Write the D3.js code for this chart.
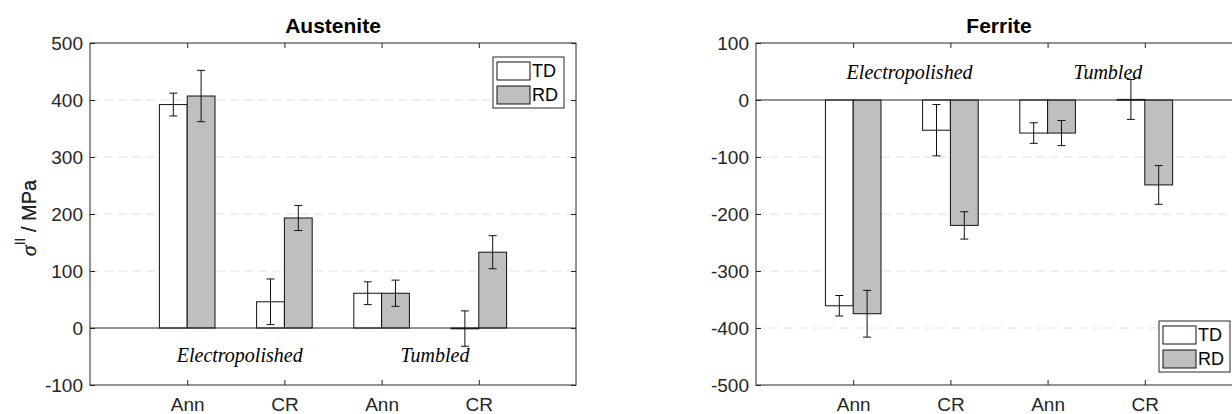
<!DOCTYPE html>
<html>
<head>
<meta charset="utf-8">
<script src="https://cdn.jsdelivr.net/npm/d3@7"></script>
<style>
  body { margin: 0; background: #fff; }
  #graphic { width: 1232px; height: 414px; overflow: hidden; }
  text { font-family: "Liberation Sans", Arial, sans-serif; fill: #262626; }
  .grouplabel { font-family: "Liberation Serif", "DejaVu Serif", serif; font-style: italic; fill: #000; }
</style>
</head>
<body>
<div id="graphic"></div>
<script>
// categories and series
const categories = ["Ann", "CR", "Ann", "CR"];
const groups = ["Electropolished", "Tumbled"];
const series = ["TD", "RD"];

// Austenite values (MPa) and error
const austeniteTD = [392, 46, 61, -1];
const austeniteTDErr = [20, 40, 20, 31];
const austeniteRD = [407, 193, 61, 133];
const austeniteRDErr = [45, 22, 23, 29];

// Ferrite values (MPa) and error
const ferriteTD = [-361, -53, -58, 1];
const ferriteTDErr = [18, 45, 18, 35];
const ferriteRD = [-375, -220, -58, -149];
const ferriteRDErr = [41, 24, 22, 34];

// tick labels
const austeniteTicks = [-100, 0, 100, 200, 300, 400, 500];
const ferriteTicks = [-500, -400, -300, -200, -100, 0, 100];

const svg = d3.select("#graphic")
  .append("svg")
  .attr("width", 1232)
  .attr("height", 414);

const barChart = {
  create(opts){
    const instance = Object.create(this);
    Object.keys(opts).forEach( function(key){
      instance[key] = opts[key];
    });
    return instance;
  },
  top: 43,
  width: 486,
  height: 342,
  barW: 0.286,
  fills: ["#ffffff", "#bfbfbf"],
  createScales(){
    this.xScale = d3.scaleLinear()
      .domain([0, 5])
      .range([0, this.width]);
    this.yScale = d3.scaleLinear()
      .domain(d3.extent(this.ticks))
      .range([this.height, 0]);
  },
  drawPlot(){
    this.plot = svg.append("g")
      .attr("transform", `translate(${this.left}, ${this.top})`);
  },
  drawGrid(){
    const that = this;
    const inner = this.ticks.filter(t => t !== 0 && t !== this.ticks[0] && t !== this.ticks[this.ticks.length - 1]);
    this.plot.append("g")
      .attr("class", "grid")
      .selectAll("line")
      .data(inner)
      .enter()
      .append("line")
      .attr("x1", 0)
      .attr("x2", this.width)
      .attr("y1", d => that.yScale(d))
      .attr("y2", d => that.yScale(d))
      .attr("stroke", "#e0e0e0")
      .attr("stroke-width", 1)
      .attr("stroke-dasharray", "9,5");
  },
  drawData(){
    const that = this;
    const rows = [];
    this.values.forEach( function(vals, s){
      vals.forEach( function(v, i){
        rows.push({ s: s, i: i, v: v, e: that.errors[s][i] });
      });
    });

    const bars = this.plot.append("g").attr("class", "bars");

    bars.selectAll("rect")
      .data(rows)
      .enter()
      .append("rect")
      .attr("x", d => that.xScale(i2x(d)))
      .attr("width", that.xScale(that.barW) - that.xScale(0))
      .attr("y", d => that.yScale(Math.max(d.v, 0)))
      .attr("height", d => Math.max(Math.abs(that.yScale(d.v) - that.yScale(0)), 0.8))
      .attr("fill", d => that.fills[d.s])
      .attr("stroke", "#111")
      .attr("stroke-width", 1);

    function i2x(d){
      return d.i + 1 + (d.s === 0 ? -that.barW : 0);
    }

    // baseline
    this.plot.append("line")
      .attr("x1", 0)
      .attr("x2", this.width)
      .attr("y1", this.yScale(0))
      .attr("y2", this.yScale(0))
      .attr("stroke", "#262626")
      .attr("stroke-width", 1);

    // error bars
    const errs = this.plot.append("g").attr("class", "errors")
      .selectAll("g")
      .data(rows)
      .enter()
      .append("g")
      .attr("stroke", "#111")
      .attr("stroke-width", 1);

    const cx = d => that.xScale(i2x(d) + that.barW / 2);
    errs.append("line")
      .attr("x1", cx).attr("x2", cx)
      .attr("y1", d => that.yScale(d.v - d.e))
      .attr("y2", d => that.yScale(d.v + d.e));
    errs.append("line")
      .attr("x1", d => cx(d) - 4).attr("x2", d => cx(d) + 4)
      .attr("y1", d => that.yScale(d.v - d.e))
      .attr("y2", d => that.yScale(d.v - d.e));
    errs.append("line")
      .attr("x1", d => cx(d) - 4).attr("x2", d => cx(d) + 4)
      .attr("y1", d => that.yScale(d.v + d.e))
      .attr("y2", d => that.yScale(d.v + d.e));
  },
  drawAxes(){
    const that = this;
    const yAxis = d3.axisLeft(this.yScale)
      .tickValues(this.ticks)
      .tickSizeInner(-5)
      .tickSizeOuter(0)
      .tickPadding(7)
      .tickFormat(d => String(d));
    const yRight = d3.axisRight(this.yScale)
      .tickValues(this.ticks)
      .tickSizeInner(-5)
      .tickSizeOuter(0)
      .tickFormat("");
    const xAxis = d3.axisBottom(this.xScale)
      .tickValues([1, 2, 3, 4])
      .tickSizeInner(-5)
      .tickSizeOuter(0)
      .tickPadding(13)
      .tickFormat(d => categories[d - 1]);
    const xTop = d3.axisTop(this.xScale)
      .tickValues([1, 2, 3, 4])
      .tickSizeInner(-5)
      .tickSizeOuter(0)
      .tickFormat("");

    this.plot.append("g").attr("class", "axis yaxis").call(yAxis);
    this.plot.append("g").attr("class", "axis").attr("transform", `translate(${this.width},0)`).call(yRight);
    this.plot.append("g").attr("class", "axis xaxis").attr("transform", `translate(0,${this.height})`).call(xAxis);
    this.plot.append("g").attr("class", "axis").call(xTop);

    this.plot.selectAll(".axis .domain").remove();
    this.plot.selectAll(".axis line").attr("stroke", "#262626");
    this.plot.selectAll(".axis text")
      .attr("font-size", 19)
      .attr("font-family", null)
      .attr("fill", "#262626");

    // frame
    this.plot.append("rect")
      .attr("width", this.width)
      .attr("height", this.height)
      .attr("fill", "none")
      .attr("stroke", "#262626")
      .attr("stroke-width", 1);

    // title
    this.plot.append("text")
      .attr("x", this.width / 2)
      .attr("y", -10)
      .attr("text-anchor", "middle")
      .attr("font-size", 21)
      .attr("font-weight", "bold")
      .style("fill", "#000")
      .text(this.title);

    // y label
    const lab = this.plot.append("text")
      .attr("transform", `translate(${-this.left + this.labelX}, ${this.height / 2 + 4}) rotate(-90)`)
      .attr("text-anchor", "middle")
      .attr("font-size", 20);
    lab.append("tspan")
      .attr("font-family", "Liberation Serif, serif")
      .attr("font-style", "italic")
      .attr("font-size", 22)
      .text("σ");
    lab.append("tspan")
      .attr("dy", -11)
      .attr("font-size", 14)
      .text("II");
    lab.append("tspan")
      .attr("dy", 11)
      .text(" / MPa");

    // group labels
    this.plot.selectAll(".grouplabel")
      .data(groups)
      .enter()
      .append("text")
      .attr("class", "grouplabel")
      .attr("x", (d, i) => that.xScale(that.groupX[i]))
      .attr("y", this.yScale(this.groupY))
      .attr("dy", "0.35em")
      .attr("text-anchor", "middle")
      .attr("font-size", 20)
      .text(d => d);
  },
  drawLegend(){
    const that = this;
    const lg = this.plot.append("g")
      .attr("transform", `translate(403, ${this.legendY})`);
    lg.append("rect")
      .attr("width", 71)
      .attr("height", 51)
      .attr("fill", "#fff")
      .attr("stroke", "#262626")
      .attr("stroke-width", 1);
    const items = lg.selectAll(".item")
      .data(series)
      .enter()
      .append("g")
      .attr("transform", (d, i) => `translate(4, ${5 + i * 24})`);
    items.append("rect")
      .attr("width", 33)
      .attr("height", 18)
      .attr("fill", (d, i) => that.fills[i])
      .attr("stroke", "#111");
    items.append("text")
      .attr("x", 35)
      .attr("y", 9)
      .attr("dy", "0.36em")
      .attr("font-size", 18)
      .style("fill", "#000")
      .text(d => d);
  },
  draw(){
    this.createScales();
    this.drawPlot();
    this.drawGrid();
    this.drawData();
    this.drawAxes();
    this.drawLegend();
  }
};

barChart.create({
  title: "Austenite",
  left: 90,
  labelX: 36,
  ticks: austeniteTicks,
  values: [austeniteTD, austeniteRD],
  errors: [austeniteTDErr, austeniteRDErr],
  groupX: [1.54, 3.55],
  groupY: -47,
  legendY: 14
}).draw();

barChart.create({
  title: "Ferrite",
  left: 756,
  labelX: 36,
  ticks: ferriteTicks,
  values: [ferriteTD, ferriteRD],
  errors: [ferriteTDErr, ferriteRDErr],
  groupX: [1.58, 3.62],
  groupY: 50,
  legendY: 278
}).draw();
</script>
</body>
</html>
